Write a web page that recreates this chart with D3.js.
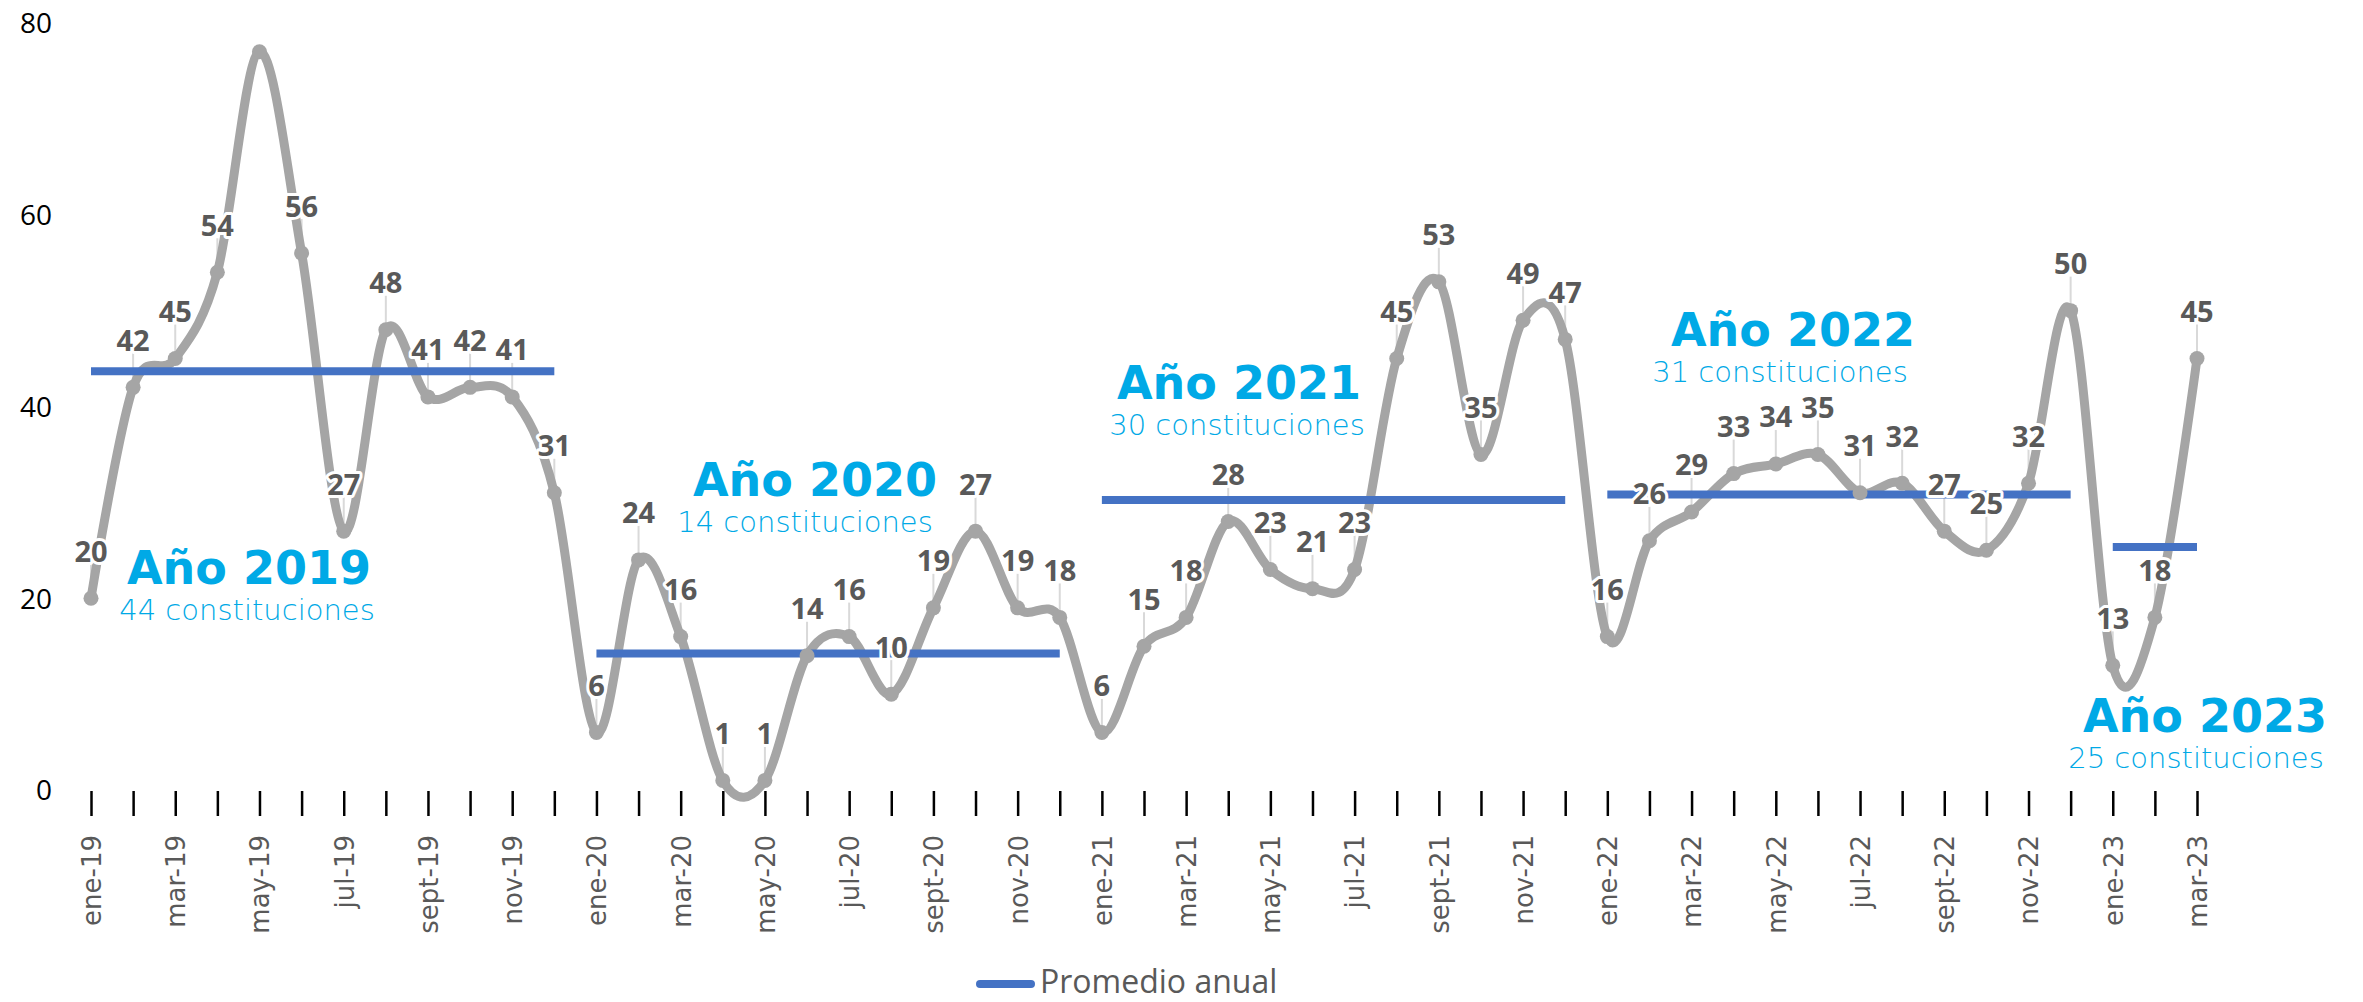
<!DOCTYPE html>
<html><head><meta charset="utf-8">
<script src="https://cdn.jsdelivr.net/npm/d3@7/dist/d3.min.js"></script>
<style>html,body{margin:0;padding:0;background:#fff;} svg{display:block;}</style>
</head><body>
<svg id="chart" width="2363" height="1002"></svg>
<script>
// ---------- data ----------
const months = [
  "ene-19","feb-19","mar-19","abr-19","may-19","jun-19","jul-19","ago-19","sept-19","oct-19","nov-19","dic-19",
  "ene-20","feb-20","mar-20","abr-20","may-20","jun-20","jul-20","ago-20","sept-20","oct-20","nov-20","dic-20",
  "ene-21","feb-21","mar-21","abr-21","may-21","jun-21","jul-21","ago-21","sept-21","oct-21","nov-21","dic-21",
  "ene-22","feb-22","mar-22","abr-22","may-22","jun-22","jul-22","ago-22","sept-22","oct-22","nov-22","dic-22",
  "ene-23","feb-23","mar-23"
];
const values = [
  20,42,45,54,77,56,27,48,41,42,41,31,
  6,24,16,1,1,14,16,10,19,27,19,18,
  6,15,18,28,23,21,23,45,53,35,49,47,
  16,26,29,33,34,35,31,32,27,25,32,50,
  13,18,45
];
const years = ["19","20","21","22","23"];
const yearNames = ["2019","2020","2021","2022","2023"];
const yTicks = [0,20,40,60,80];
const hiddenLabels = ["may-19"];
const legendLabel = "Promedio anual";

// ---------- layout (pixels) ----------
const annoLayout = [
  {tx: 249,  ty: 584, sx: 247,  sy: 620},
  {tx: 815,  ty: 496, sx: 805,  sy: 532},
  {tx: 1239, ty: 399, sx: 1237, sy: 435},
  {tx: 1793, ty: 346, sx: 1780, sy: 382},
  {tx: 2205, ty: 732, sx: 2196, sy: 768}
];

const svg = d3.select("#chart");
const x = d3.scalePoint().domain(months).range([91, 2197]);
const y = d3.scaleLinear().domain([0, 80]).range([790, 23]);

const data = months.map((m, i) => ({m, v: values[i]}));

// yearly averages
const avgs = years.map(yr => {
  const pts = data.filter(d => d.m.endsWith("-" + yr));
  return {yr, first: pts[0].m, last: pts[pts.length - 1].m, avg: d3.mean(pts, d => d.v)};
});

// ---------- y axis ----------
const yAxis = svg.append("g").attr("transform", "translate(52,0)")
  .call(d3.axisLeft(y).tickValues(yTicks).tickSize(0).tickPadding(0));
yAxis.select(".domain").remove();
yAxis.selectAll("text").attr("font-family", "'Open Sans', sans-serif")
  .attr("font-size", 28).attr("fill", "#000").attr("dy", "0.35em");

// ---------- x axis ----------
const xAxis = svg.append("g").attr("transform", `translate(0,${y(0)})`)
  .call(d3.axisBottom(x).tickSizeInner(26).tickSizeOuter(0)
    .tickFormat((d, i) => i % 2 === 0 ? d : ""));
xAxis.select(".domain").remove();
xAxis.selectAll("line").attr("stroke", "#000").attr("stroke-width", 2.5).attr("y1", 1);
xAxis.selectAll("text")
  .attr("font-family", "'DejaVu Sans', sans-serif").attr("font-size", 26)
  .attr("fill", "#595959")
  .attr("transform", "rotate(-90)")
  .attr("text-anchor", "end")
  .attr("x", -45).attr("y", 0).attr("dy", "0.36em");

// ---------- leader lines ----------
const labeled = data.filter(d => !hiddenLabels.includes(d.m));
svg.append("g").selectAll("line").data(labeled).join("line")
  .attr("x1", d => x(d.m)).attr("x2", d => x(d.m))
  .attr("y1", d => y(d.v) - 34).attr("y2", d => y(d.v) - 6)
  .attr("stroke", "#D9D9D9").attr("stroke-width", 2);

// ---------- gray smoothed line ----------
const line = d3.line().x(d => x(d.m)).y(d => y(d.v)).curve(d3.curveCatmullRom.alpha(0));
svg.append("path").datum(data).attr("d", line)
  .attr("fill", "none").attr("stroke", "#A5A5A5").attr("stroke-width", 9)
  .attr("stroke-linejoin", "round").attr("stroke-linecap", "round");

// ---------- yearly average segments ----------
svg.append("g").selectAll("line").data(avgs).join("line")
  .attr("x1", d => x(d.first)).attr("x2", d => x(d.last))
  .attr("y1", d => y(d.avg)).attr("y2", d => y(d.avg))
  .attr("stroke", "#4472C4").attr("stroke-width", 8);

// ---------- markers ----------
svg.append("g").selectAll("circle").data(data).join("circle")
  .attr("cx", d => x(d.m)).attr("cy", d => y(d.v)).attr("r", 7.5)
  .attr("fill", "#A5A5A5");

// ---------- data labels ----------
svg.append("g").selectAll("text").data(labeled).join("text")
  .attr("x", d => x(d.m)).attr("y", d => y(d.v) - 47)
  .attr("dy", "0.36em").attr("text-anchor", "middle")
  .attr("font-family", "'Open Sans', sans-serif").attr("font-weight", 700)
  .attr("font-size", 29).attr("fill", "#595959")
  .attr("stroke", "#fff").attr("stroke-width", 6).attr("stroke-linejoin", "round")
  .attr("paint-order", "stroke")
  .text(d => d.v);

// ---------- year annotations ----------
const ann = svg.append("g");
avgs.forEach((a, i) => {
  const L = annoLayout[i];
  ann.append("text").attr("x", L.tx).attr("y", L.ty).attr("text-anchor", "middle")
    .attr("font-family", "'DejaVu Sans', sans-serif").attr("font-weight", 700)
    .attr("font-size", 46).attr("fill", "#00A9E6")
    .text("Año " + yearNames[i]);
  ann.append("text").attr("x", L.sx).attr("y", L.sy).attr("text-anchor", "middle")
    .attr("font-family", "'DejaVu Sans', sans-serif").attr("font-weight", 300)
    .attr("font-size", 29).attr("fill", "#00A9E6")
    .text(Math.round(a.avg) + " constituciones");
});

// ---------- legend ----------
const lg = svg.append("g");
lg.append("line").attr("x1", 980).attr("x2", 1031).attr("y1", 984).attr("y2", 984)
  .attr("stroke", "#4472C4").attr("stroke-width", 8).attr("stroke-linecap", "round");
lg.append("text").attr("x", 1040).attr("y", 993)
  .attr("font-family", "'Open Sans', sans-serif").attr("font-size", 32).attr("fill", "#595959")
  .text(legendLabel);
</script>
</body></html>
